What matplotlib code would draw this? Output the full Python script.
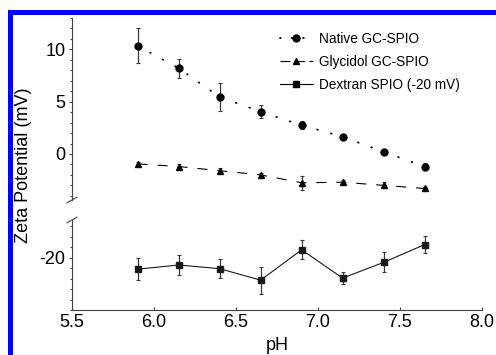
import numpy as np
import matplotlib
matplotlib.use("Agg")
import matplotlib.pyplot as plt
from matplotlib.ticker import MultipleLocator, FixedLocator
from matplotlib.lines import Line2D

plt.rcParams['font.family'] = ['Liberation Sans', 'DejaVu Sans']
plt.rcParams['axes.unicode_minus'] = False

# data
ph = [5.9, 6.15, 6.4, 6.65, 6.9, 7.15, 7.4, 7.65]
native = [10.35, 8.2, 5.45, 4.05, 2.75, 1.65, 0.2, -1.2]
native_err = [1.65, 0.9, 1.3, 0.6, 0.4, 0.25, 0.15, 0.3]
glycidol = [-0.95, -1.2, -1.6, -2.0, -2.75, -2.7, -3.0, -3.3]
glycidol_err = [0.15, 0.2, 0.25, 0.15, 0.65, 0.2, 0.3, 0.15]
dextran = [-21.1, -20.7, -21.05, -22.15, -19.25, -21.95, -20.45, -18.75]
dextran_err = [1.05, 1.0, 0.9, 1.3, 0.9, 0.6, 0.95, 0.8]

W, H = 496, 355
fig = plt.figure(figsize=(W / 100, H / 100), dpi=100)

def rect(x0, y0, x1, y1):
    return [x0 / W, 1 - y1 / H, (x1 - x0) / W, (y1 - y0) / H]

ax_top = fig.add_axes(rect(72, 18, 482, 200))
ax_bot = fig.add_axes(rect(72, 220, 482, 310), sharex=ax_top)

spine_col = '#444444'
for ax in (ax_top, ax_bot):
    ax.spines['top'].set_visible(False)
    ax.spines['right'].set_visible(False)
    ax.spines['left'].set_color(spine_col)
    ax.spines['bottom'].set_color(spine_col)
    ax.spines['left'].set_linewidth(0.8)
    ax.spines['bottom'].set_linewidth(0.8)
    ax.yaxis.set_minor_locator(MultipleLocator(1))
    ax.tick_params(axis='y', which='both', direction='out', length=2.5, width=0.8,
                   color=spine_col, labelsize=13, pad=2)
    ax.tick_params(axis='y', which='minor', length=1.8)

ax_top.spines['bottom'].set_visible(False)
ax_top.tick_params(axis='x', which='both', bottom=False, labelbottom=False)
ax_top.set_ylim(-4.4, 13)
ax_top.yaxis.set_major_locator(FixedLocator([0, 5, 10]))

ax_bot.set_ylim(-25, -16.4)
ax_bot.yaxis.set_major_locator(FixedLocator([-20]))
ax_bot.set_xlim(5.5, 8.0)
ax_bot.xaxis.set_major_locator(MultipleLocator(0.5))
ax_bot.xaxis.set_major_formatter(matplotlib.ticker.FormatStrFormatter('%.1f'))
ax_bot.tick_params(axis='x', direction='in', length=2, width=0.8, color=spine_col,
                   labelsize=13, pad=3)

ekw = dict(ecolor='#3a3a3a', elinewidth=0.9, capsize=1.5, capthick=0.8)

dot_style = (0, (0.4, 7.5))
dash_style = (0, (9, 9))

ax_top.errorbar(ph, native, yerr=native_err, color='black', marker='o', markersize=5,
                linestyle=dot_style, linewidth=1.3, dash_capstyle='round', **ekw)
ax_top.errorbar(ph, glycidol, yerr=glycidol_err, color='black', marker='^', markersize=4.5,
                linestyle=dash_style, linewidth=0.8, **ekw)
ax_bot.errorbar(ph, dextran, yerr=dextran_err, color='#1a1a1a', marker='s', markersize=5,
                linestyle='-', linewidth=0.8, **ekw)

# break marks on left spine
dx = 5 / 410
ax_top.plot([-dx, dx], [-2.8 / 182, 2.8 / 182], transform=ax_top.transAxes,
            color=spine_col, lw=0.8, clip_on=False)
ax_bot.plot([-dx, dx], [1 - 2.8 / 90, 1 + 2.8 / 90], transform=ax_bot.transAxes,
            color=spine_col, lw=0.8, clip_on=False)

handles = [
    Line2D([], [], color='black', marker='o', markersize=5, linestyle=(0, (0.4, 6)),
           linewidth=1.3, dash_capstyle='round'),
    Line2D([], [], color='black', marker='^', markersize=4.5, linestyle=(0, (9, 4)), linewidth=0.8),
    Line2D([], [], color='black', marker='s', markersize=5, linestyle='-', linewidth=0.8),
]
labels = ['Native GC-SPIO', 'Glycidol GC-SPIO', 'Dextran SPIO (-20 mV)']
fig.legend(handles, labels, loc='upper left', bbox_to_anchor=(280 / W, 1 - 32 / H),
           frameon=False, fontsize=9.8, handlelength=2.4, handletextpad=0.5,
           labelspacing=0.65, borderpad=0, borderaxespad=0)

fig.text(24 / W, 1 - 165 / H, 'Zeta Potential (mV)', rotation=90, ha='center', va='center',
         fontsize=13)
fig.text(277 / W, 1 - 346 / H, 'pH', ha='center', va='center', fontsize=13)

# blue frame at top and left
fig.add_artist(plt.Rectangle((8 / W, 1 - 15 / H), 1, 5 / H, transform=fig.transFigure,
                             color='#0000ff', lw=0))
fig.add_artist(plt.Rectangle((8 / W, 0), 5 / W, 1 - 10 / H, transform=fig.transFigure,
                             color='#0000ff', lw=0))

fig.savefig('out.png', dpi=100)
